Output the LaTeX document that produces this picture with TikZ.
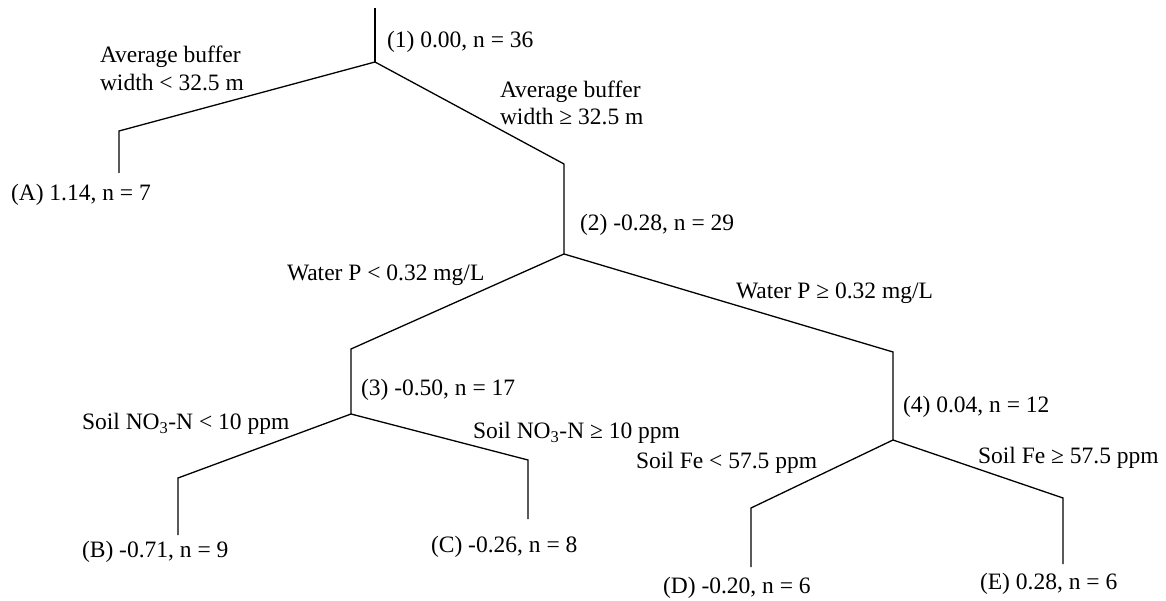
\documentclass[tikz,border=0pt]{standalone}
\usepackage{fontspec}
\setmainfont{Liberation Serif}
\begin{document}
\begin{tikzpicture}[x=1pt,y=-1pt,
  lbl/.style={inner sep=0pt,outer sep=0pt,anchor=west,align=left,font=\fontsize{23.5}{27.5}\selectfont},
  branch/.style={line width=1.3pt,line join=miter}]
\useasboundingbox (0,0) rectangle (1166,601);
% split points and corners
\coordinate (top) at (375,8);
\coordinate (s1) at (375,62);
\coordinate (cA) at (119,131);
\coordinate (eA) at (119,173);
\coordinate (c2) at (564,164);
\coordinate (s2) at (564,254);
\coordinate (c3) at (351,349);
\coordinate (s3) at (351,414);
\coordinate (cB) at (178,478);
\coordinate (eB) at (178,535);
\coordinate (cC) at (528,460);
\coordinate (eC) at (528,519);
\coordinate (c4) at (893,352);
\coordinate (s4) at (893,440);
\coordinate (cD) at (751,508);
\coordinate (eD) at (751,567);
\coordinate (cE) at (1063,498);
\coordinate (eE) at (1063,564);
% texts
\node[lbl] (t1) at (387,42) {(1) 0.00, n = 36};
\node[lbl] (l1a) at (100,68.5) {Average buffer\\width < 32.5 m};
\node[lbl] (l1b) at (500,103) {Average buffer\\width ≥ 32.5 m};
\node[lbl] (A) at (11,195) {(A) 1.14, n = 7};
\node[lbl] (t2) at (580,225) {(2) -0.28, n = 29};
\node[lbl] (l2a) at (287,275) {Water P < 0.32 mg/L};
\node[lbl] (l2b) at (736,293) {Water P ≥ 0.32 mg/L};
\node[lbl] (t3) at (361,390) {(3) -0.50, n = 17};
\node[lbl] (l3a) at (82,424) {Soil NO\textsubscript{3}-N < 10 ppm};
\node[lbl] (l3b) at (473,433) {Soil NO\textsubscript{3}-N ≥ 10 ppm};
\node[lbl] (B) at (82,552) {(B) -0.71, n = 9};
\node[lbl] (C) at (431,547) {(C) -0.26, n = 8};
\node[lbl] (t4) at (903,407) {(4) 0.04, n = 12};
\node[lbl] (l4a) at (636,463) {Soil Fe < 57.5 ppm};
\node[lbl] (l4b) at (978,458) {Soil Fe ≥ 57.5 ppm};
\node[lbl] (D) at (663,588) {(D) -0.20, n = 6};
\node[lbl] (E) at (980,584) {(E) 0.28, n = 6};
% branches
\draw[branch] (top) -- (s1);
\draw[branch] (s1) -- (cA) -- (eA);
\draw[branch] (s1) -- (c2) -- (s2);
\draw[branch] (s2) -- (c3) -- (s3);
\draw[branch] (s2) -- (c4) -- (s4);
\draw[branch] (s3) -- (cB) -- (eB);
\draw[branch] (s3) -- (cC) -- (eC);
\draw[branch] (s4) -- (cD) -- (eD);
\draw[branch] (s4) -- (cE) -- (eE);
\end{tikzpicture}
\end{document}
